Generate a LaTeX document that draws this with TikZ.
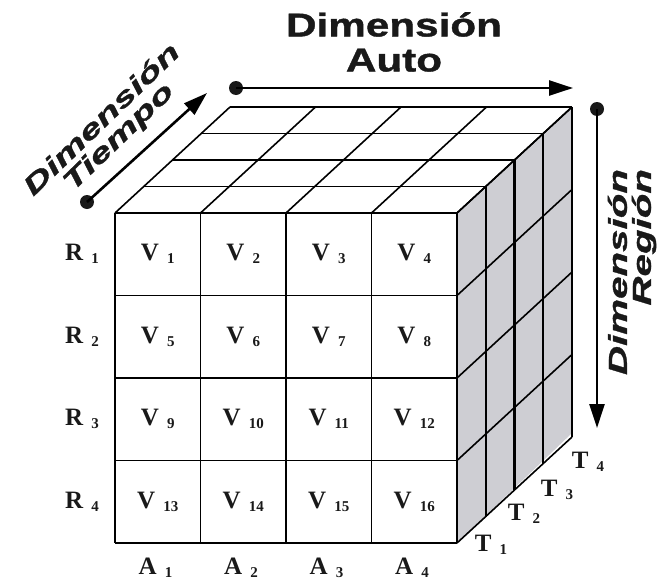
\documentclass[tikz,border=0pt]{standalone}
\usepackage{fontspec}
\setmainfont{Liberation Serif}
\newfontfamily\anchafont[FakeStretch=1.28,FakeBold=1.2]{Liberation Sans}
\newfontfamily\oblicuafont[FakeStretch=1.55,FakeBold=1.2]{Liberation Sans}
\usetikzlibrary{arrows.meta}

\definecolor{grislado}{RGB}{206,206,211}
\definecolor{tinta}{RGB}{25,25,25}

% rotulo con subindice separado: \etiq{V}{1}
\newcommand{\etiq}[2]{#1\hspace{8pt}\raisebox{-3pt}{\fontsize{15}{15}\selectfont #2}}

\begin{document}
\begin{tikzpicture}[x=1pt,y=-1pt,
    arista/.style={line width=1.6pt, line join=round},
    eje/.style={line width=2.6pt, -{Triangle[length=24pt,width=15pt]}},
    punto/.style={circle, fill=tinta, inner sep=0pt, minimum size=14pt},
    rotulo/.style={font=\fontsize{25}{25}\selectfont\bfseries, text=tinta, inner sep=0pt},
    titulo/.style={font=\anchafont\fontsize{33}{35}\selectfont\bfseries, text=tinta, align=center, inner sep=0pt},
    oblicuo/.style={font=\oblicuafont\fontsize{26}{24}\selectfont\bfseries\itshape, text=tinta, inner sep=0pt}]
    \useasboundingbox (0,0) rectangle (661,581);

    % Cara lateral sombreada del cubo
    \fill[grislado] (457,213) -- (572,107) -- (572,433) -- (457,543) -- cycle;

    % Cara frontal (filas y columnas)
    \foreach \i in {0,...,4}
        \draw[arista] (115,213+\i*82.5) -- (457,213+\i*82.5);
    \foreach \j in {0,...,4}
        \draw[arista] (115+\j*85.5,213) -- (115+\j*85.5,543);

    % Cara superior (capas de tiempo)
    \foreach \k in {1,...,4}
        \draw[arista] (115+\k*28.75,213-\k*26.5) -- (457+\k*28.75,213-\k*26.5);
    \foreach \j in {0,...,4}
        \draw[arista] (115+\j*85.5,213) -- ++(115,-106);

    % Cara lateral
    \foreach \k in {1,...,4}
        \draw[arista] (457+\k*28.75,213-\k*26.5) -- ++(0,330);
    \draw[line width=2.4pt] (514.5,160) -- ++(0,330);
    \foreach \i in {0,...,4}
        \draw[arista] (457,213+\i*82.5) -- ++(115,-106);

    % Valores de cada celda
    \foreach \i in {1,...,4}
        \foreach \j in {1,...,4} {
            \pgfmathtruncatemacro{\n}{(\i-1)*4+\j}
            \node[rotulo] (v\n) at (115+\j*85.5-42.75,213+\i*82.5-41.25) {\etiq{V}{\n}};
        }

    % Regiones, autos y tiempos
    \foreach \i in {1,...,4}
        \node[rotulo] (r\i) at (82,213+\i*82.5-41.25) {\etiq{R}{\i}};
    \foreach \j in {1,...,4}
        \node[rotulo] (a\j) at (115+\j*85.5-45,568) {\etiq{A}{\j}};
    \node[rotulo] (t1) at (491,545) {\etiq{T}{1}};
    \node[rotulo] (t2) at (524,514) {\etiq{T}{2}};
    \node[rotulo] (t3) at (557,490) {\etiq{T}{3}};
    \node[rotulo] (t4) at (588,462) {\etiq{T}{4}};

    % Ejes de las dimensiones
    \node[punto] (pauto) at (236,88) {};
    \coordinate (fauto) at (573,88);
    \draw[eje] (pauto.center) -- (fauto);
    \node[punto] (ptiempo) at (87,202) {};
    \coordinate (ftiempo) at (207,93);
    \draw[eje] (ptiempo.center) -- (ftiempo);
    \node[punto] (pregion) at (597,109) {};
    \coordinate (fregion) at (597,428);
    \draw[eje] (pregion.center) -- (fregion);

    % Nombres de las dimensiones
    \node[titulo] (auto) at (394,42) {Dimensión\\Auto};
    \node[oblicuo, align=center, rotate=44] (tiempo) at (111,129) {Dimensión\\Tiempo};
    \node[oblicuo, align=right, rotate=90] (region) at (632,272) {Dimensión\\Región};
\end{tikzpicture}
\end{document}
